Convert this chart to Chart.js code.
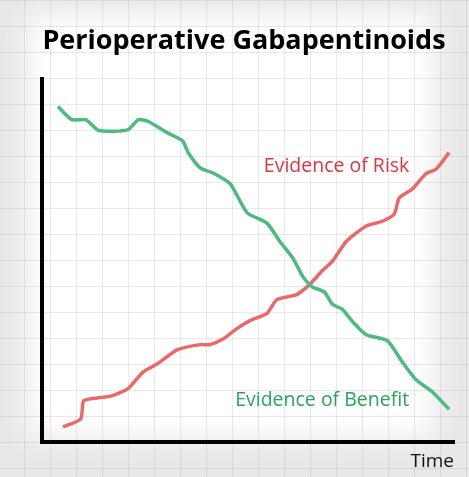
<!DOCTYPE html>
<html>
<head>
<meta charset="utf-8">
<script src="https://cdn.jsdelivr.net/npm/chart.js@4.4.1/dist/chart.umd.min.js"></script>
<style>
  html, body { margin: 0; padding: 0; background: #ececec; }
  #wrap { width: 469px; height: 477px; position: relative; }
</style>
</head>
<body>
<div id="wrap"><canvas id="chart" width="469" height="477"></canvas></div>
<script>
// time runs 0..100 along x, evidence 0..100 up y
const benefitX = [3.9, 7.2, 10.6, 13.8, 20.8, 23.4, 25.8, 30.4, 34.1, 35.5, 38.4, 41.5, 45.7, 49.8, 54.6, 57.7, 60.9, 63.3, 65.5, 68.6, 70.5, 72.9, 75.4, 78.7, 83.8, 87.4, 90.8, 94.7, 98.8];
const benefitY = [92.5, 88.9, 88.9, 85.9, 86.1, 88.9, 88.4, 85.3, 83.1, 79.8, 75.6, 74.2, 71.2, 63.2, 60.4, 55.4, 50.7, 45.7, 42.9, 41.3, 38.0, 36.6, 33.2, 29.6, 28.0, 22.2, 17.2, 13.9, 9.1];
const riskX = [5.1, 9.4, 10.1, 13.5, 16.7, 20.8, 24.6, 28.0, 32.9, 38.4, 40.8, 44.0, 47.3, 50.5, 54.6, 57.0, 61.8, 65.0, 67.9, 70.5, 73.9, 78.7, 82.6, 85.5, 86.7, 89.9, 93.2, 95.7, 98.8];
const riskY = [4.2, 6.4, 11.4, 12.2, 12.7, 14.7, 19.4, 21.6, 25.5, 26.9, 26.9, 28.5, 31.3, 33.5, 35.5, 39.3, 40.7, 43.5, 47.1, 49.9, 55.4, 59.6, 60.9, 62.9, 67.3, 69.8, 74.0, 75.3, 79.8];
const seriesNames = ['Evidence of Benefit', 'Evidence of Risk'];

const toPoints = (xs, ys) => xs.map((x, i) => ({ x: x, y: ys[i] }));

const green = 'rgb(76,187,127)';
const red = 'rgb(236,104,104)';

// paper background: soft white glow in the middle, faint grid everywhere
const paper = {
  id: 'paper',
  beforeDraw(chart) {
    const ctx = chart.ctx;
    const w = chart.width, h = chart.height;
    ctx.save();
    ctx.fillStyle = '#e8e8e8';
    ctx.fillRect(0, 0, w, h);
    ctx.filter = 'blur(14px)';
    ctx.fillStyle = '#fff';
    ctx.fillRect(28, 14, w - 62, h - 54);
    ctx.filter = 'none';
    ctx.strokeStyle = 'rgba(150,150,150,0.2)';
    ctx.lineWidth = 1;
    for (let x = 24; x < w; x += 26) {
      ctx.beginPath(); ctx.moveTo(x + 0.5, 0); ctx.lineTo(x + 0.5, h); ctx.stroke();
    }
    for (let y = 0; y < h; y += 26) {
      ctx.beginPath(); ctx.moveTo(0, y + 0.5); ctx.lineTo(w, y + 0.5); ctx.stroke();
    }
    ctx.restore();
  }
};

// the two series names written next to their lines
const lineLabels = {
  id: 'lineLabels',
  afterDatasetsDraw(chart) {
    const ctx = chart.ctx;
    const xs = chart.scales.x, ys = chart.scales.y;
    ctx.save();
    ctx.font = '19.5px "Open Sans"';
    ctx.textAlign = 'center';
    ctx.textBaseline = 'middle';
    ctx.fillStyle = '#e2333d';
    ctx.fillText(seriesNames[1], xs.getPixelForValue(71.5), ys.getPixelForValue(76));
    ctx.fillStyle = '#2aa55c';
    ctx.fillText(seriesNames[0], xs.getPixelForValue(68), ys.getPixelForValue(11.5));
    ctx.restore();
  }
};

new Chart(document.getElementById('chart'), {
  type: 'line',
  data: {
    datasets: [
      {
        label: seriesNames[0],
        data: toPoints(benefitX, benefitY),
        borderColor: green,
        borderWidth: 3.5,
        pointRadius: 0,
        tension: 0.2
      },
      {
        label: seriesNames[1],
        data: toPoints(riskX, riskY),
        borderColor: red,
        borderWidth: 3.5,
        pointRadius: 0,
        tension: 0.2
      }
    ]
  },
  options: {
    responsive: false,
    animation: false,
    layout: { padding: { left: 34, right: 15, top: 25, bottom: 4 } },
    plugins: {
      legend: { display: false },
      tooltip: { enabled: false },
      title: {
        display: true,
        text: 'Perioperative Gabapentinoids',
        color: '#000',
        font: { family: '"Open Sans"', size: 27, weight: 'bold' },
        padding: { top: 0, bottom: 22 }
      }
    },
    scales: {
      x: {
        type: 'linear',
        min: 0,
        max: 100,
        grid: { display: false },
        border: { display: true, color: '#000', width: 4 },
        ticks: { display: false },
        title: {
          display: true,
          text: 'Time',
          align: 'end',
          color: '#111',
          font: { family: '"Open Sans"', size: 19 },
          padding: { top: 0, bottom: 0 }
        }
      },
      y: {
        min: 0,
        max: 100,
        grid: { display: false },
        border: { display: true, color: '#000', width: 4 },
        ticks: { display: false }
      }
    }
  },
  plugins: [paper, lineLabels]
});
</script>
</body>
</html>
